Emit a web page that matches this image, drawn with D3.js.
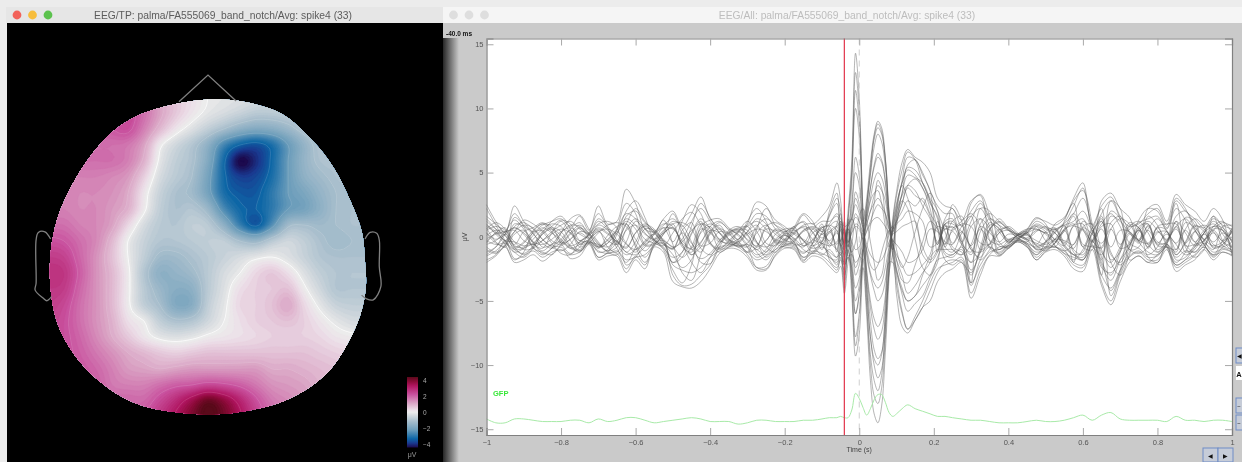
<!DOCTYPE html>
<html>
<head>
<meta charset="utf-8">
<script src="https://cdn.jsdelivr.net/npm/d3@7"></script>
<style>
  html, body { margin: 0; padding: 0; background: #ececec; overflow: hidden; }
  svg { display: block; filter: blur(0.35px); font-family: "Liberation Sans", Arial, sans-serif; }
  .axis text { fill: #555; font-size: 7.5px; font-family: "Liberation Sans", Arial, sans-serif; }
  .axis path { stroke: #808080; }
  .axis line { stroke: #a8a8a8; }
  .trace { fill: none; stroke: #555; stroke-width: 0.75; stroke-opacity: 0.58; }
</style>
</head>
<body>
<div id="chart"></div>
<script>
var settings = {
  width: 1242,
  height: 462,
  plot: { left: 486.5, right: 1232, top: 38.5, bottom: 435 },
  head: { left: 50, right: 366, top: 99.5, bottom: 413 },
  topo: { left: 48, right: 368, top: 97, bottom: 417 },
  upsample: 4,
  red: '#e2344a',
  green: '#a8eaa8'
};

// sample times of the traces, seconds
var times = [-1,-.975,-.95,-.925,-.9,-.875,-.85,-.825,-.8,-.775,-.75,-.725,-.7,-.675,-.65,-.625,-.6,-.575,-.55,-.525,-.5,-.475,-.45,-.425,-.4,-.375,-.35,-.325,-.3,-.275,-.25,-.225,-.2,-.175,-.15,-.125,-.1,
  -.08,-.06,-.05,-.04,-.03,-.02,-.01,0,.01,.02,.03,.04,.05,.06,.07,.08,.09,.1,.115,.13,.15,.17,.19,.21,.23,
  .25,.275,.3,.325,.35,.375,.4,.425,.45,.475,.5,.525,.55,.575,.6,.625,.65,.675,.7,.725,.75,.775,.8,.825,.85,.875,.9,.925,.95,.975,1];

// channels, tenths of a microvolt
var c01 = [25,12,3,24,12,4,9,12,14,8,16,5,24,10,12,37,26,6,4,14,20,8,18,31,14,7,3,-2,10,27,24,9,4,6,17,10,16,
  24,42,28,-8,20,60,143,108,22,-15,-30,-42,-50,-46,-34,-10,6,20,32,40,36,24,14,-4,14,
  22,8,20,28,15,9,5,2,3,10,7,6,11,24,38,9,24,31,16,8,10,18,22,9,28,20,14,7,16,9,6];
var c02 = [-18,-14,-3,-17,-15,-11,-16,-12,-10,-14,-12,-4,-16,-13,-13,-25,-15,-22,-6,-3,-30,-38,-37,-30,-22,-8,-7,-6,-14,-24,-23,-12,-7,-5,-18,-13,-15,
  -20,-26,-16,-40,12,52,128,98,18,-40,-78,-100,-110,-103,-72,-25,12,32,52,66,60,42,28,6,-18,
  -22,-18,-44,-26,-14,-8,-7,-3,-6,-16,-10,-8,-13,-22,-24,-6,-35,-50,-30,-16,-12,-18,-18,-8,-24,-20,-15,-8,-16,-10,-12];
var c03 = [14,6,-3,10,8,2,-5,-9,-4,6,11,3,14,8,-3,-12,-14,-8,2,9,14,6,-9,-17,-13,-3,4,7,9,18,16,6,-2,-6,-12,-8,3,
  17,30,20,-20,14,48,114,88,14,-32,-66,-88,-95,-90,-62,-20,8,24,42,52,48,38,22,-6,12,
  14,-4,-14,10,18,12,6,1,-3,-9,-5,4,10,18,30,8,-12,-20,-8,6,11,14,16,6,22,13,-4,-7,5,11,8];
var c04 = [-12,-8,2,-6,4,7,11,6,-2,-8,-10,-4,-8,-2,6,18,14,3,-3,-6,-14,-24,-18,4,10,6,-2,-5,-8,-16,-12,-2,4,7,12,3,-6,
  -14,-22,-12,-30,-8,42,100,78,10,-28,-55,-72,-80,-74,-52,-16,6,12,20,28,24,30,18,8,-14,
  -16,-6,12,26,13,4,-4,-2,3,12,8,-3,-10,-18,-10,3,18,28,14,-5,-9,-14,-8,4,-18,-16,-6,5,10,2,-9];
var c05 = [9,4,-4,-12,-9,-2,6,10,8,-3,-11,-5,3,9,11,8,-6,-16,-5,4,12,9,-4,-20,-21,-8,3,6,2,-12,-18,-10,-3,3,9,10,4,
  10,18,14,8,10,26,62,48,12,30,58,80,90,85,62,20,-10,-32,-58,-72,-65,-55,-42,-28,-20,
  -18,-20,-28,-10,6,11,5,-1,-5,-8,-4,5,9,12,20,4,-20,-30,-12,8,12,3,-10,-6,-14,-5,8,6,-9,-6,5];
var c06 = [-8,-12,-6,8,11,6,-2,-8,-11,-6,4,2,-6,-11,-4,10,22,12,4,-5,-9,-2,12,22,12,3,-4,-7,-5,8,14,9,5,-2,-10,-13,-8,
  -12,-16,-10,6,-12,20,50,40,10,26,54,76,85,80,60,18,-8,-25,-45,-58,-52,-46,-32,-20,10,
  10,4,-8,-18,-10,3,8,3,-2,-10,-8,-2,4,16,-6,-8,-14,6,14,10,-4,-12,-14,-5,16,20,9,-3,-12,-8,7];
var c07 = [5,8,5,-4,-10,-9,-3,4,9,12,6,1,-7,-3,5,14,9,-2,-5,-7,3,14,19,9,-6,-10,-6,3,8,12,6,-4,-6,-4,5,7,2,
  6,-10,8,-6,8,14,30,22,8,18,38,56,65,60,44,12,-6,-18,-30,-44,-38,-28,-20,12,-8,
  6,12,18,8,-9,-12,-6,2,6,6,3,6,-6,-14,-18,-3,10,18,8,-10,-13,-8,8,10,10,-6,-12,-3,8,7,-3];
var c08 = [3,-5,-7,15,9,3,-8,-6,3,9,8,2,12,6,-6,-14,-10,-4,3,10,8,-6,-14,-8,4,11,6,2,-6,-14,-10,2,6,6,-3,-9,-6,
  4,8,-6,4,-4,8,15,12,4,10,20,32,40,36,28,8,-4,14,34,56,60,48,36,-12,10,
  -8,-12,-20,-12,5,14,7,2,-2,-5,-8,-5,5,-10,-14,2,14,-12,-22,-12,4,10,-7,-8,-10,6,14,8,-6,-8,-4];
var c09 = [-6,-3,4,13,6,-4,-13,-9,-2,5,-6,-3,9,5,-9,-20,-8,6,5,-3,-8,-16,-8,10,7,-2,-6,-4,4,14,10,-3,-5,-7,-13,-5,8,
  -6,5,-8,-14,-6,-12,-20,-16,-4,5,12,20,25,22,18,6,4,12,26,40,45,38,26,16,-8,
  -12,3,16,22,8,-7,-8,-2,4,8,4,-7,-11,-6,8,10,-10,-24,-10,11,7,-6,-12,-3,8,14,5,-6,-14,-3,6];
var c10 = [12,6,1,-10,-13,-7,4,7,4,-7,-12,-2,5,-8,-12,6,14,7,-2,-9,-16,-12,3,14,6,-9,-3,4,12,4,-8,-12,-4,2,8,4,-10,
  8,12,-6,-10,6,-16,-40,-32,-8,14,30,44,50,46,34,12,-6,-14,-22,-30,-28,-22,-14,8,6,
  8,-6,-30,-8,11,6,-2,-1,2,-7,-11,-5,6,18,6,-7,-8,16,12,3,-5,6,14,4,-6,-14,-10,3,12,5,-8];
var c11 = [-14,-8,2,18,8,-5,-9,3,12,3,-5,-3,-12,-10,6,26,18,-6,-5,3,7,-6,-20,-28,-16,-5,2,5,-3,-10,-3,5,2,-4,-16,-12,-5,
  -16,-18,-6,-34,-10,-28,-60,-46,-12,24,50,78,88,82,60,18,-14,-26,-40,-50,-46,-30,-16,-10,-10,
  -10,-14,-6,14,6,-10,-3,1,5,9,6,3,-7,-14,-16,-3,-22,-34,-18,-4,6,12,5,-5,-20,-12,4,9,4,-7,-10];
var c12 = [10,2,-6,-18,-12,4,10,8,-5,-13,-8,3,18,7,-6,10,-8,-20,-7,2,18,2,-14,-5,8,12,5,-3,-12,-8,8,11,6,-6,-5,6,12,
  12,16,8,-22,-16,-46,-93,-76,-16,22,48,70,80,74,54,16,-10,12,26,38,32,28,16,-6,10,
  12,-2,-38,-18,-8,-13,-7,-3,-6,-12,-9,-2,8,-20,12,5,-16,-42,-26,2,-4,16,9,-8,-22,-18,-8,3,14,8,-13];
var c13 = [-4,3,7,-8,-14,-8,2,8,13,10,-3,-4,-6,-8,-3,-12,-4,9,3,13,-6,-28,-34,-14,3,9,-2,-8,-6,-10,-14,-6,-2,8,-7,-3,6,
  -8,10,18,-16,4,-38,-85,-64,-10,18,38,54,62,58,42,14,6,16,34,48,46,42,30,20,-12,
  -14,-8,-20,4,14,9,-4,1,6,15,10,-7,-13,-16,-18,-4,12,-20,-30,-14,7,-16,-20,-6,-12,15,12,-6,8,12,3];
var c14 = [16,10,4,7,2,-8,-14,-9,3,14,17,6,-4,-11,-8,16,20,11,6,-4,-20,-12,8,26,15,3,-5,-8,-12,6,22,13,8,2,-3,-12,-4,
  16,26,-8,-20,-12,-36,-78,-60,-24,-62,-112,-138,-145,-132,-90,-32,10,26,42,54,52,42,28,14,-6,
  25,12,-36,22,20,-4,-9,-3,-7,-18,-11,-5,12,30,42,7,22,-46,-28,-8,13,22,20,7,26,-8,-16,-10,16,-3,-11];
var c15 = [-10,-13,-7,4,13,10,4,-5,-13,-14,-4,2,10,12,7,-22,-16,-6,-2,7,-4,12,25,18,-4,-12,-8,-3,12,22,12,-5,-8,-9,-19,-5,10,
  -18,-24,-18,-26,14,-24,-60,-44,-18,-55,-100,-124,-130,-118,-80,-28,-12,18,44,62,60,50,36,24,18,
  18,-4,26,33,16,-14,-8,-3,5,14,12,9,14,28,36,10,-30,28,22,-18,-15,-20,-14,-6,30,22,6,-6,-14,-12,-14];
var c16 = [22,9,-3,-12,-16,-9,3,12,16,6,-8,-5,-16,-12,2,20,28,15,-3,-10,-26,-36,-22,8,13,14,7,1,-8,-24,-25,-14,-6,7,18,12,-4,
  20,34,-4,12,-15,-14,-30,-22,-10,-50,-92,-112,-120,-108,-70,-24,14,35,58,68,62,58,50,30,24,
  22,13,28,32,-3,-15,-9,-4,-8,-14,-4,10,15,26,-8,-10,28,34,22,15,-3,22,25,12,33,25,20,12,22,13,-15];
var c17 = [-20,-15,-8,-20,-18,-14,-19,-14,-8,-17,-15,-6,-18,-15,-15,-28,-18,-25,-8,-12,-35,-39,-40,-35,-25,-13,-9,-10,-16,-26,-26,-15,-9,-10,-20,-15,-17,
  -23,-28,-23,-44,-20,-6,10,8,-6,-40,-78,-95,-100,-92,-60,-20,-20,-45,-70,-75,-65,-55,-50,-35,-28,
  -25,-20,-48,-30,-15,-15,-9,-4,-8,-18,-12,-10,-15,-25,-27,-10,-38,-53,-35,-20,-15,-20,-20,-10,-27,-22,-18,-10,-18,-12,-15];
var c18 = [7,-4,-8,2,5,-9,-12,-14,-6,3,9,3,-5,-12,-14,-4,12,6,-3,-8,-20,-16,2,12,-5,-9,-4,4,8,-4,-16,-8,3,8,11,-6,-14,
  -10,-16,10,4,-8,10,25,18,6,-26,-50,-64,-70,-64,-46,-14,-6,-28,-42,-50,-46,-38,-30,-18,-16,
  -14,-10,-26,-12,9,7,-5,2,4,-10,-8,6,-8,-14,-12,7,-24,-28,-18,-8,8,10,-12,-7,-16,-11,-12,-5,-10,8,9];
var c19 = [1,5,3,-7,-8,1,7,3,-3,-9,-6,-2,4,6,2,-6,-10,-5,2,7,6,-3,-10,-4,5,3,-3,-5,2,6,4,-2,-4,-3,4,6,-1,
  4,-6,5,-5,6,-4,-10,-8,3,-12,-28,-36,-40,-36,-24,-8,3,10,14,20,18,12,-8,-5,6,
  5,10,8,-5,-6,3,5,1,-2,4,8,3,-5,8,5,-3,6,-8,5,4,-3,-5,4,-2,6,-5,4,-2,3,-3,4];
var c20 = [-2,2,4,5,-3,-6,-3,2,6,3,-3,1,7,3,-4,-8,3,10,4,-2,-8,-4,5,10,4,-3,-5,-2,3,-5,-8,-3,2,3,-2,-5,2,
  -3,3,-3,6,-4,3,8,6,-2,4,10,14,15,12,8,3,-3,-6,-12,-20,-18,-10,6,4,-4,
  -6,4,-7,6,-3,-6,-2,0,1,-3,-6,-2,-3,-6,7,2,-5,6,-6,3,-3,5,-5,2,-5,5,-4,2,-4,3,-3];
var c21 = [6,11,6,-8,-4,5,10,4,-5,-2,7,-1,-8,-5,3,12,6,-7,-6,2,10,11,6,-9,-14,-6,5,8,1,-8,-3,6,3,-1,-7,-2,7,
  8,-12,12,-10,10,15,35,26,6,-6,-14,-18,-20,-18,-12,-4,2,4,8,10,12,-14,-20,-12,8,
  7,9,-10,-12,-6,5,7,2,3,6,2,-4,6,9,10,-5,8,10,-9,-6,5,-6,7,-3,8,-7,-6,-3,5,-4,-8];
var c22 = [-15,-11,-5,-10,-9,-6,-11,-6,-4,-9,-11,-5,-11,-13,-11,-18,-16,-14,-7,-5,-22,-26,-28,-24,-16,-11,-8,-7,-12,-18,-15,-10,-7,-8,-16,-11,-13,
  -16,-20,-14,-22,-16,-24,-50,-38,-10,10,20,26,30,26,18,6,-16,-38,-60,-72,-62,-50,-36,-25,-22,
  -20,-16,-36,-22,-12,-10,-7,-2,-5,-14,-9,-8,-11,-20,-22,-7,-30,-40,-26,-15,-11,-16,-15,-8,-22,-18,-14,-8,-15,-9,-12];
var c23 = [3,-2,2,7,3,-4,-6,-2,4,7,2,-1,4,-3,-6,5,9,2,-2,3,7,-5,-9,6,3,-4,1,4,-2,-7,6,4,-3,4,7,-2,-5,
  -7,-4,6,2,-5,4,18,12,-3,-10,-22,-26,-22,-12,-2,5,-3,-18,-34,-36,-22,-4,12,6,-6,
  4,-6,-12,8,3,-4,2,1,-1,5,3,-2,-7,9,14,-3,-9,11,16,4,-2,8,-6,-4,12,3,-7,-3,6,5,-4];
var c24 = [-5,3,1,-9,-5,3,5,-3,-6,2,7,2,-8,-5,4,-5,-12,-3,2,-6,-9,5,11,-7,-5,4,2,-4,4,9,-5,-7,1,-4,-8,3,7,
  9,5,-7,-3,7,-6,-24,-16,5,14,28,34,36,26,8,-8,4,22,40,30,12,-8,-18,-10,9,
  -5,8,16,-10,-5,6,-3,-1,2,-7,-4,3,9,-12,-18,4,12,-14,-20,-6,5,-9,7,5,-14,-4,9,4,-8,-6,5];
var c25 = [8,3,-3,-4,-7,-5,2,6,1,-7,-4,1,6,2,-4,-9,3,8,3,-4,-10,3,-5,-12,2,6,-2,-6,-8,3,9,2,-2,5,-3,-7,-3,
  3,8,12,4,-6,-12,-4,16,22,12,-4,-20,-34,-30,-12,4,8,-10,-24,-16,4,22,34,20,4,
  -10,-14,8,14,-8,-10,-5,1,3,-6,4,7,-4,-9,6,-4,16,-18,-12,9,7,-8,3,4,-10,11,7,-2,-7,-4,3];
var c26 = [-3,-6,-4,4,9,7,-2,-7,-7,-2,3,-2,-9,1,8,10,-2,-11,-3,5,10,-8,-12,3,8,-2,3,6,5,-4,-12,-4,1,-2,5,8,4,
  -4,-10,-14,-6,8,14,6,-14,-18,-8,8,26,44,38,16,-2,-10,8,28,22,-2,-24,-30,-16,-2,
  12,16,-10,-16,6,12,6,-1,-4,8,-3,-8,5,10,-8,5,-18,20,14,-10,-8,9,-4,-5,12,-12,-8,3,8,5,-4];
var channels = [c01,c02,c03,c04,c05,c06,c07,c08,c09,c10,c11,c12,c13,c14,c15,c16,c17,c18,c19,c20,c21,c22,c23,c24,c25,c26];

// GFP trace, tenths of a unit on the same axis
var gfp = [-142,-145,-145,-142,-142,-143,-144,-144,-144,-143,-143,-145,-142,-144,-143,-141,-141,-143,-145,-144,-143,-142,-141,-142,-144,-144,-144,-146,-145,-143,-143,-144,-144,-144,-143,-143,-142,
  -141,-141,-140,-141,-141,-135,-122,-126,-133,-139,-134,-127,-123,-123,-129,-137,-140,-138,-134,-131,-134,-136,-138,-140,-140,
  -141,-142,-143,-143,-144,-145,-145,-145,-144,-143,-144,-144,-143,-141,-139,-143,-139,-137,-142,-143,-143,-143,-143,-144,-140,-143,-143,-144,-143,-143,-144];

var xTicks = [-1,-.8,-.6,-.4,-.2,0,.2,.4,.6,.8,1];
var yTicks = [-15,-10,-5,0,5,10,15];
var barTicks = [-4,-2,0,2,4];
var cursorTime = -0.04;
var windowTitles = ['EEG/TP: palma/FA555069_band_notch/Avg: spike4 (33)', 'EEG/All: palma/FA555069_band_notch/Avg: spike4 (33)'];

// scalp potential in tenths of a microvolt, 21 x 21 cells, front of the head first
var topoRows = [
  [18,18,18,18,19,20,16,10,6,3,0,-1,-2,-3,-3,-3,-3,-3,-3,-3,-3],
  [18,18,18,19,21,22,17,11,6,2,-1,-3,-5,-7,-7,-6,-4,-3,-3,-3,-3],
  [18,18,18,18,20,21,15,8,2,-2,-6,-10,-14,-16,-15,-12,-8,-6,-5,-5,-5],
  [17,17,17,17,17,16,11,1,-4,-8,-14,-24,-30,-32,-28,-20,-13,-8,-6,-6,-6],
  [16,16,17,17,17,15,9,-1,-6,-9,-16,-29,-40,-36,-29,-20,-13,-9,-8,-7,-7],
  [15,15,15,15,14,12,5,-3,-7,-10,-18,-29,-34,-33,-28,-20,-14,-11,-9,-8,-8],
  [15,15,14,14,13,10,2,-5,-9,-11,-18,-28,-31,-31,-26,-20,-17,-13,-10,-9,-9],
  [15,15,14,14,12,9,1,-6,-9,-8,-12,-23,-29,-30,-26,-20,-18,-14,-10,-9,-9],
  [17,17,15,14,11,4,-3,-7,-8,-6,-7,-14,-25,-31,-22,-11,-10,-11,-10,-9,-9],
  [21,20,17,14,8,0,-5,-8,-8,-7,-6,-6,-10,-12,-7,-4,-6,-9,-11,-10,-10],
  [24,23,18,13,7,0,-6,-11,-11,-9,-7,-5,-3,-1,0,-2,-5,-8,-9,-9,-9],
  [26,25,19,13,8,1,-8,-14,-13,-11,-7,-3,0,4,6,3,-2,-6,-8,-8,-8],
  [25,24,18,13,8,1,-7,-12,-15,-14,-7,-2,3,5,6,7,1,-4,-8,-8,-8],
  [24,22,17,13,8,1,-6,-10,-16,-15,-6,-1,4,5,7,10,4,-1,-5,-6,-6],
  [23,21,17,13,9,3,0,-6,-9,-8,-4,0,3,5,6,7,5,2,-1,-3,-3],
  [22,21,18,14,10,6,2,-1,-2,-1,1,2,3,4,5,5,5,4,2,1,0],
  [21,21,19,16,13,10,8,6,5,6,7,7,7,7,7,7,7,6,5,4,3],
  [21,21,20,18,15,12,11,10,11,12,12,12,12,12,10,10,9,8,7,6,5],
  [22,22,21,19,16,15,15,17,19,20,22,21,19,16,13,12,11,9,8,7,6],
  [22,22,21,19,18,18,18,22,27,33,39,35,28,21,16,14,12,10,8,7,6],
  [22,22,21,19,18,18,20,25,31,37,42,38,31,23,18,15,13,11,9,8,7]
];
var colorValues = [-4,-3.5,-3,-2,-1,-.25,0,.25,1,2,3,3.5,4];
var colorStops = ['#1c0a4e','#1a3a90','#0d66a6','#6d9ebb','#a9bfcd','#dcdfe2','#ececec','#ecdfe8','#dba7c6','#c9529f','#b01560','#8a0b38','#5a0a1a'];
var contourLevels = [-3,-2,-1,0,1,2,3];

// outline of the head, percent of its box
var headOutline = [[50,0],[61.7,.8],[73.4,4.6],[82.3,12.3],[89.6,21.5],[94.9,32],[98.7,42.3],[99.7,51.8],[100,59.2],[98.7,67],[95.6,75],[87.7,87.2],[75,95.8],[57.9,100],[42,100],[26.3,96.6],[12.7,87.2],[3.2,73.5],[0,57.6],[1.6,40.7],[7.9,25.7],[18,12],[26.3,5.9],[35.8,2.4]];
var noseOutline = [[40.8,.7],[50,-7.8],[58.9,.5]];
var leftEar = [[.2,44.5],[-1.6,42.2],[-3.7,42.4],[-4.4,44.8],[-4.4,58.6],[-4.7,60.8],[-2.1,63.4],[-1,64.2],[.5,62.9]];
var rightEar = [[99.7,44.5],[101.3,42.4],[103.4,42.7],[104.2,44.8],[104.2,53.3],[104.7,59.7],[102.3,63.9],[100.2,63.6],[98.6,62.4]];

var svg = d3.select('#chart').append('svg')
  .attr('width', settings.width)
  .attr('height', settings.height);

var colorScale = d3.scaleLinear().domain(colorValues).range(colorStops).clamp(true);

draw_windows();
draw_topography();
draw_butterfly();

/////////////////////////////////////////////////////////////////////////////////////////////////////

function draw_windows() {
  svg.append('rect').attr('x', 0).attr('y', 0).attr('width', settings.width).attr('height', settings.height).attr('fill', '#ececec');

  // left window
  svg.append('rect').attr('x', 6).attr('y', 7).attr('width', 437).attr('height', 16).attr('fill', '#e6e6e6');
  svg.append('rect').attr('x', 7).attr('y', 23).attr('width', 436).attr('height', 439).attr('fill', '#000');
  svg.selectAll('circle.light').data(['#f2625a', '#f7bd3c', '#5cc24e']).enter().append('circle')
    .attr('class', 'light')
    .attr('cx', function(d, i) { return 17 + i * 15.5; })
    .attr('cy', 15)
    .attr('r', 4.4)
    .attr('fill', function(d) { return d; });
  svg.append('text').attr('x', 223).attr('y', 18.5).attr('text-anchor', 'middle')
    .attr('font-size', 10.3).attr('fill', '#5c5c5c').text(windowTitles[0]);

  // right window
  var shade = svg.append('defs').append('linearGradient').attr('id', 'shade');
  shade.append('stop').attr('offset', '0%').attr('stop-color', '#262626');
  shade.append('stop').attr('offset', '100%').attr('stop-color', '#cacaca');
  svg.append('rect').attr('x', 443).attr('y', 7).attr('width', 799).attr('height', 16).attr('fill', '#f5f5f5');
  svg.append('rect').attr('x', 443).attr('y', 23).attr('width', 799).attr('height', 439).attr('fill', '#cacaca');
  svg.append('rect').attr('x', 443).attr('y', 38).attr('width', 16).attr('height', 424).attr('fill', 'url(#shade)');
  svg.selectAll('circle.grey').data([0, 1, 2]).enter().append('circle')
    .attr('class', 'grey')
    .attr('cx', function(d) { return 453.5 + d * 15.5; })
    .attr('cy', 15)
    .attr('r', 4.4)
    .attr('fill', '#dedede');
  svg.append('text').attr('x', 847).attr('y', 18.5).attr('text-anchor', 'middle')
    .attr('font-size', 10.3).attr('fill', '#bdbdbd').text(windowTitles[1]);
  svg.append('text').attr('x', 446).attr('y', 35.5)
    .attr('font-size', 6.5).attr('font-weight', 'bold').attr('fill', '#111').text('-40.0 ms');
}

function draw_topography() {
  var box = settings.head;
  var headX = d3.scaleLinear().domain([0, 100]).range([box.left, box.right]);
  var headY = d3.scaleLinear().domain([0, 100]).range([box.top, box.bottom]);

  var outline = d3.line()
    .x(function(d) { return headX(d[0]); })
    .y(function(d) { return headY(d[1]); });

  svg.select('defs').append('clipPath').attr('id', 'head')
    .append('path')
    .attr('d', outline.curve(d3.curveCatmullRomClosed)(headOutline));

  var grid = upsample_grid(topoRows, settings.upsample);
  var gridX = d3.scaleLinear().domain([0.5, grid.w - 0.5]).range([settings.topo.left, settings.topo.right]);
  var gridY = d3.scaleLinear().domain([0.5, grid.h - 0.5]).range([settings.topo.top, settings.topo.bottom]);
  var path = d3.geoPath(d3.geoTransform({
    point: function(x, y) { this.stream.point(gridX(x), gridY(y)); }
  }));

  var bands = d3.range(-44, 45).map(function(d) { return d / 10; });
  var contours = d3.contours().size([grid.w, grid.h]);

  var topo = svg.append('g').attr('clip-path', 'url(#head)');
  topo.selectAll('path.band')
    .data(contours.thresholds(bands)(grid.values))
    .enter().append('path')
    .attr('class', 'band')
    .attr('d', path)
    .attr('fill', function(d) { return colorScale(d.value); })
    .attr('stroke', function(d) { return colorScale(d.value); })
    .attr('stroke-width', 0.3);

  topo.selectAll('path.level')
    .data(contours.thresholds(contourLevels)(grid.values))
    .enter().append('path')
    .attr('class', 'level')
    .attr('d', path)
    .attr('fill', 'none')
    .attr('stroke', '#fff')
    .attr('stroke-width', function(d) { return d.value === 0 ? 1 : 0.6; })
    .attr('stroke-opacity', function(d) { return d.value === 0 ? 0.7 : 0.22; });

  // nose and ears
  svg.selectAll('path.ear')
    .data([noseOutline, leftEar, rightEar])
    .enter().append('path')
    .attr('class', 'ear')
    .attr('d', function(d, i) { return outline.curve(i ? d3.curveCatmullRom : d3.curveLinear)(d); })
    .attr('fill', 'none')
    .attr('stroke', '#808080')
    .attr('stroke-width', 1.3);

  // colour bar
  var barY = d3.scaleLinear().domain([-4, 4]).range([444.5, 380]);
  var gradient = svg.select('defs').append('linearGradient').attr('id', 'bar')
    .attr('x1', 0).attr('x2', 0).attr('y1', 1).attr('y2', 0);
  colorValues.forEach(function(v, i) {
    gradient.append('stop')
      .attr('offset', ((v + 4) / 8 * 100) + '%')
      .attr('stop-color', colorStops[i]);
  });
  svg.append('rect')
    .attr('x', 407).attr('y', barY(4) - 3)
    .attr('width', 11).attr('height', barY(-4) - barY(4) + 6)
    .attr('fill', 'url(#bar)');
  var barAxis = svg.append('g').attr('class', 'axis')
    .attr('transform', 'translate(418,0)')
    .call(d3.axisRight(barY).tickValues(barTicks).tickSize(0).tickPadding(5).tickFormat(d3.format('d')));
  barAxis.select('.domain').remove();
  barAxis.selectAll('text').style('fill', '#a8a8a8').style('font-size', '6.5px');
  svg.append('text').attr('x', 412).attr('y', 457).attr('text-anchor', 'middle')
    .attr('font-size', 7).attr('fill', '#999').text('\u03bcV');
}

function draw_butterfly() {
  var p = settings.plot;
  var x = d3.scaleLinear().domain([-1, 1]).range([p.left, p.right]);
  var y = d3.scaleLinear().domain([-15.45, 15.45]).range([p.bottom, p.top]);

  svg.append('rect')
    .attr('x', p.left).attr('y', p.top)
    .attr('width', p.right - p.left).attr('height', p.bottom - p.top)
    .attr('fill', '#fff');

  var trace = d3.line()
    .defined(function(d) { return d !== undefined; })
    .x(function(d, i) { return x(times[i]); })
    .y(function(d) { return y(d / 10); })
    .curve(d3.curveCatmullRom);

  svg.append('g').selectAll('path.trace')
    .data(channels)
    .enter().append('path')
    .attr('class', 'trace')
    .attr('d', trace);

  svg.append('path')
    .datum(gfp)
    .attr('d', trace)
    .attr('fill', 'none')
    .attr('stroke', settings.green)
    .attr('stroke-width', 1);

  svg.append('line')
    .attr('x1', x(0)).attr('x2', x(0))
    .attr('y1', p.top).attr('y2', p.bottom)
    .attr('stroke', '#cfcfcf').attr('stroke-width', 1).attr('stroke-dasharray', '6,5');

  svg.append('line')
    .attr('x1', x(cursorTime)).attr('x2', x(cursorTime))
    .attr('y1', p.top).attr('y2', p.bottom)
    .attr('stroke', settings.red).attr('stroke-width', 1.2);

  svg.append('text')
    .attr('x', 493).attr('y', 396)
    .attr('font-size', 7.5).attr('font-weight', 'bold').attr('fill', '#3be83b')
    .text('GFP');

  // matlab style box, ticks point inward on all four sides
  var axisFormat = d3.format('~g');
  svg.append('g').attr('class', 'axis')
    .attr('transform', 'translate(0,' + p.bottom + ')')
    .call(d3.axisBottom(x).tickValues(xTicks).tickSize(-7).tickPadding(5).tickFormat(axisFormat));
  svg.append('g').attr('class', 'axis')
    .attr('transform', 'translate(' + p.left + ',0)')
    .call(d3.axisLeft(y).tickValues(yTicks).tickSize(-7).tickPadding(3).tickFormat(axisFormat));
  svg.append('g').attr('class', 'axis')
    .attr('transform', 'translate(0,' + p.top + ')')
    .call(d3.axisTop(x).tickValues(xTicks).tickSize(-7).tickFormat(''));
  svg.append('g').attr('class', 'axis')
    .attr('transform', 'translate(' + p.right + ',0)')
    .call(d3.axisRight(y).tickValues(yTicks).tickSize(-7).tickFormat(''));
  svg.selectAll('.axis .domain').style('stroke-width', 1.2);

  svg.append('text')
    .attr('x', x(0)).attr('y', 452).attr('text-anchor', 'middle')
    .attr('font-size', 7).attr('fill', '#444').text('Time (s)');
  svg.append('text')
    .attr('transform', 'translate(467,237) rotate(-90)').attr('text-anchor', 'middle')
    .attr('font-size', 7).attr('fill', '#444').text('\u03bcV');

  draw_buttons();
}

function draw_buttons() {
  var buttons = [
    { x: 1236, y: 348, w: 8, h: 15, t: '\u25c0' },
    { x: 1236, y: 398, w: 8, h: 15, t: '\u2212' },
    { x: 1236, y: 415, w: 8, h: 15, t: '\u2212' },
    { x: 1203, y: 448, w: 15, h: 14, t: '\u25c0' },
    { x: 1218, y: 448, w: 15, h: 14, t: '\u25b6' }
  ];
  svg.selectAll('rect.btn').data(buttons).enter().append('rect')
    .attr('class', 'btn')
    .attr('x', function(d) { return d.x; })
    .attr('y', function(d) { return d.y; })
    .attr('width', function(d) { return d.w; })
    .attr('height', function(d) { return d.h; })
    .attr('fill', '#c6ccd8')
    .attr('stroke', '#6f8cc6');
  svg.selectAll('text.btn').data(buttons).enter().append('text')
    .attr('class', 'btn')
    .attr('x', function(d) { return d.x + (d.w > 10 ? d.w / 2 : 3); })
    .attr('y', function(d) { return d.y + d.h / 2 + 2.5; })
    .attr('text-anchor', 'middle')
    .attr('font-size', 6)
    .attr('fill', '#111')
    .text(function(d) { return d.t; });

  svg.append('rect').attr('x', 1236).attr('y', 366).attr('width', 6).attr('height', 14).attr('fill', '#fff');
  svg.append('text').attr('x', 1236.3).attr('y', 376.5).attr('font-size', 7.5).attr('font-weight', 'bold').attr('fill', '#111').text('A');
}

// bicubic refinement of the coarse table, only to get smooth contours out of it
function upsample_grid(rows, factor) {
  var nr = rows.length, nc = rows[0].length;
  var h = (nr - 1) * factor + 1, w = (nc - 1) * factor + 1;
  var values = new Array(w * h);

  function cubic(a, b, c, d, t) {
    return b + 0.5 * t * (c - a + t * (2 * a - 5 * b + 4 * c - d + t * (3 * (b - c) + d - a)));
  }
  function at(r, c) {
    return rows[Math.max(0, Math.min(nr - 1, r))][Math.max(0, Math.min(nc - 1, c))] / 10;
  }
  for (var j = 0; j < h; j++) {
    var r0 = Math.floor(j / factor), tr = j / factor - r0;
    for (var i = 0; i < w; i++) {
      var c0 = Math.floor(i / factor), tc = i / factor - c0;
      var col = [-1, 0, 1, 2].map(function(dr) {
        return cubic(at(r0 + dr, c0 - 1), at(r0 + dr, c0), at(r0 + dr, c0 + 1), at(r0 + dr, c0 + 2), tc);
      });
      values[j * w + i] = cubic(col[0], col[1], col[2], col[3], tr);
    }
  }
  return { w: w, h: h, values: values };
}
</script>
</body>
</html>
